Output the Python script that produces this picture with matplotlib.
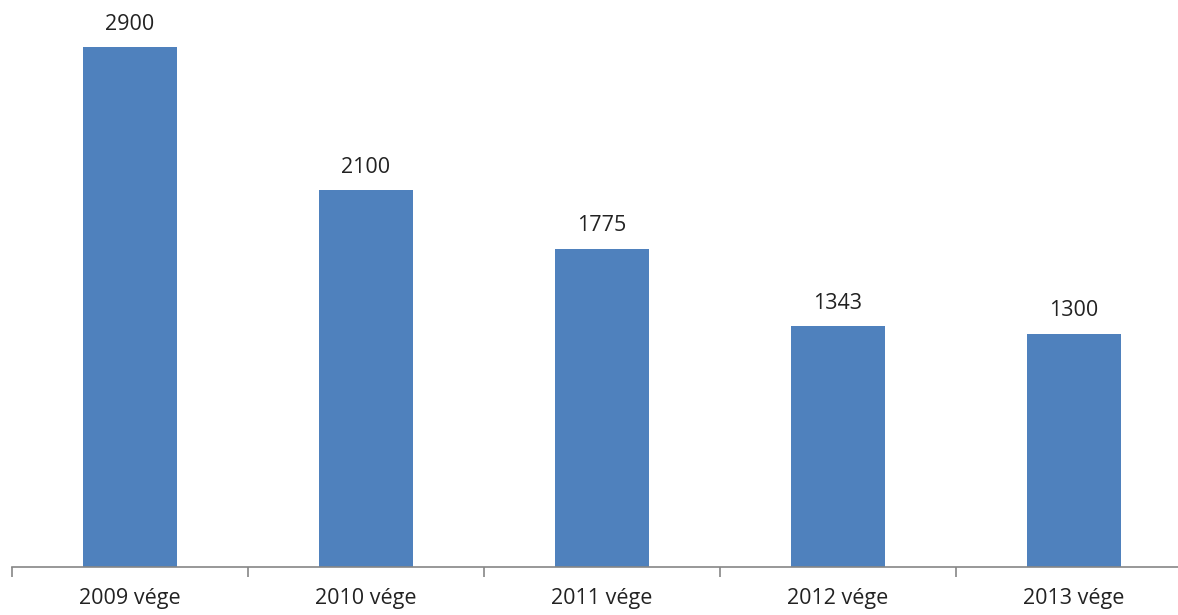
import numpy as np
import matplotlib.pyplot as plt

categories = ['2009 vége', '2010 vége', '2011 vége', '2012 vége', '2013 vége']
values = [2900, 2100, 1775, 1343, 1300]

plt.rcParams['font.family'] = ['Open Sans', 'DejaVu Sans']

fig = plt.figure(figsize=(11.78, 6.15), dpi=100)
# plot area in figure pixels: x 12..1192, baseline at y=567 from top
ax = fig.add_axes([12/1178, 48/615, 1180/1178, 567/615])

x = np.arange(len(categories))
ax.bar(x, values, width=0.4, color='#4F81BD', zorder=2)
for xi, v in zip(x, values):
    ax.annotate('%d' % v, (xi, v), xytext=(0, 9), textcoords='offset points',
                ha='center', va='bottom', fontsize=15.5, color='#222222')

ax.set_xlim(-0.5, len(categories) - 0.5)
ax.set_ylim(0, 2900 * 567 / 520)

for s in ['top', 'right', 'left']:
    ax.spines[s].set_visible(False)
ax.spines['bottom'].set_color('#868686')
ax.spines['bottom'].set_linewidth(1.2)
ax.set_yticks([])

ax.set_xticks(x)
ax.set_xticklabels(categories, fontsize=15.5, color='#222222')
ax.tick_params(axis='x', which='major', length=0, pad=15)
ax.set_xticks(np.arange(-0.5, len(categories)), minor=True)
ax.tick_params(axis='x', which='minor', length=7, color='#868686', width=1.2)

fig.savefig('out.png', dpi=100)
